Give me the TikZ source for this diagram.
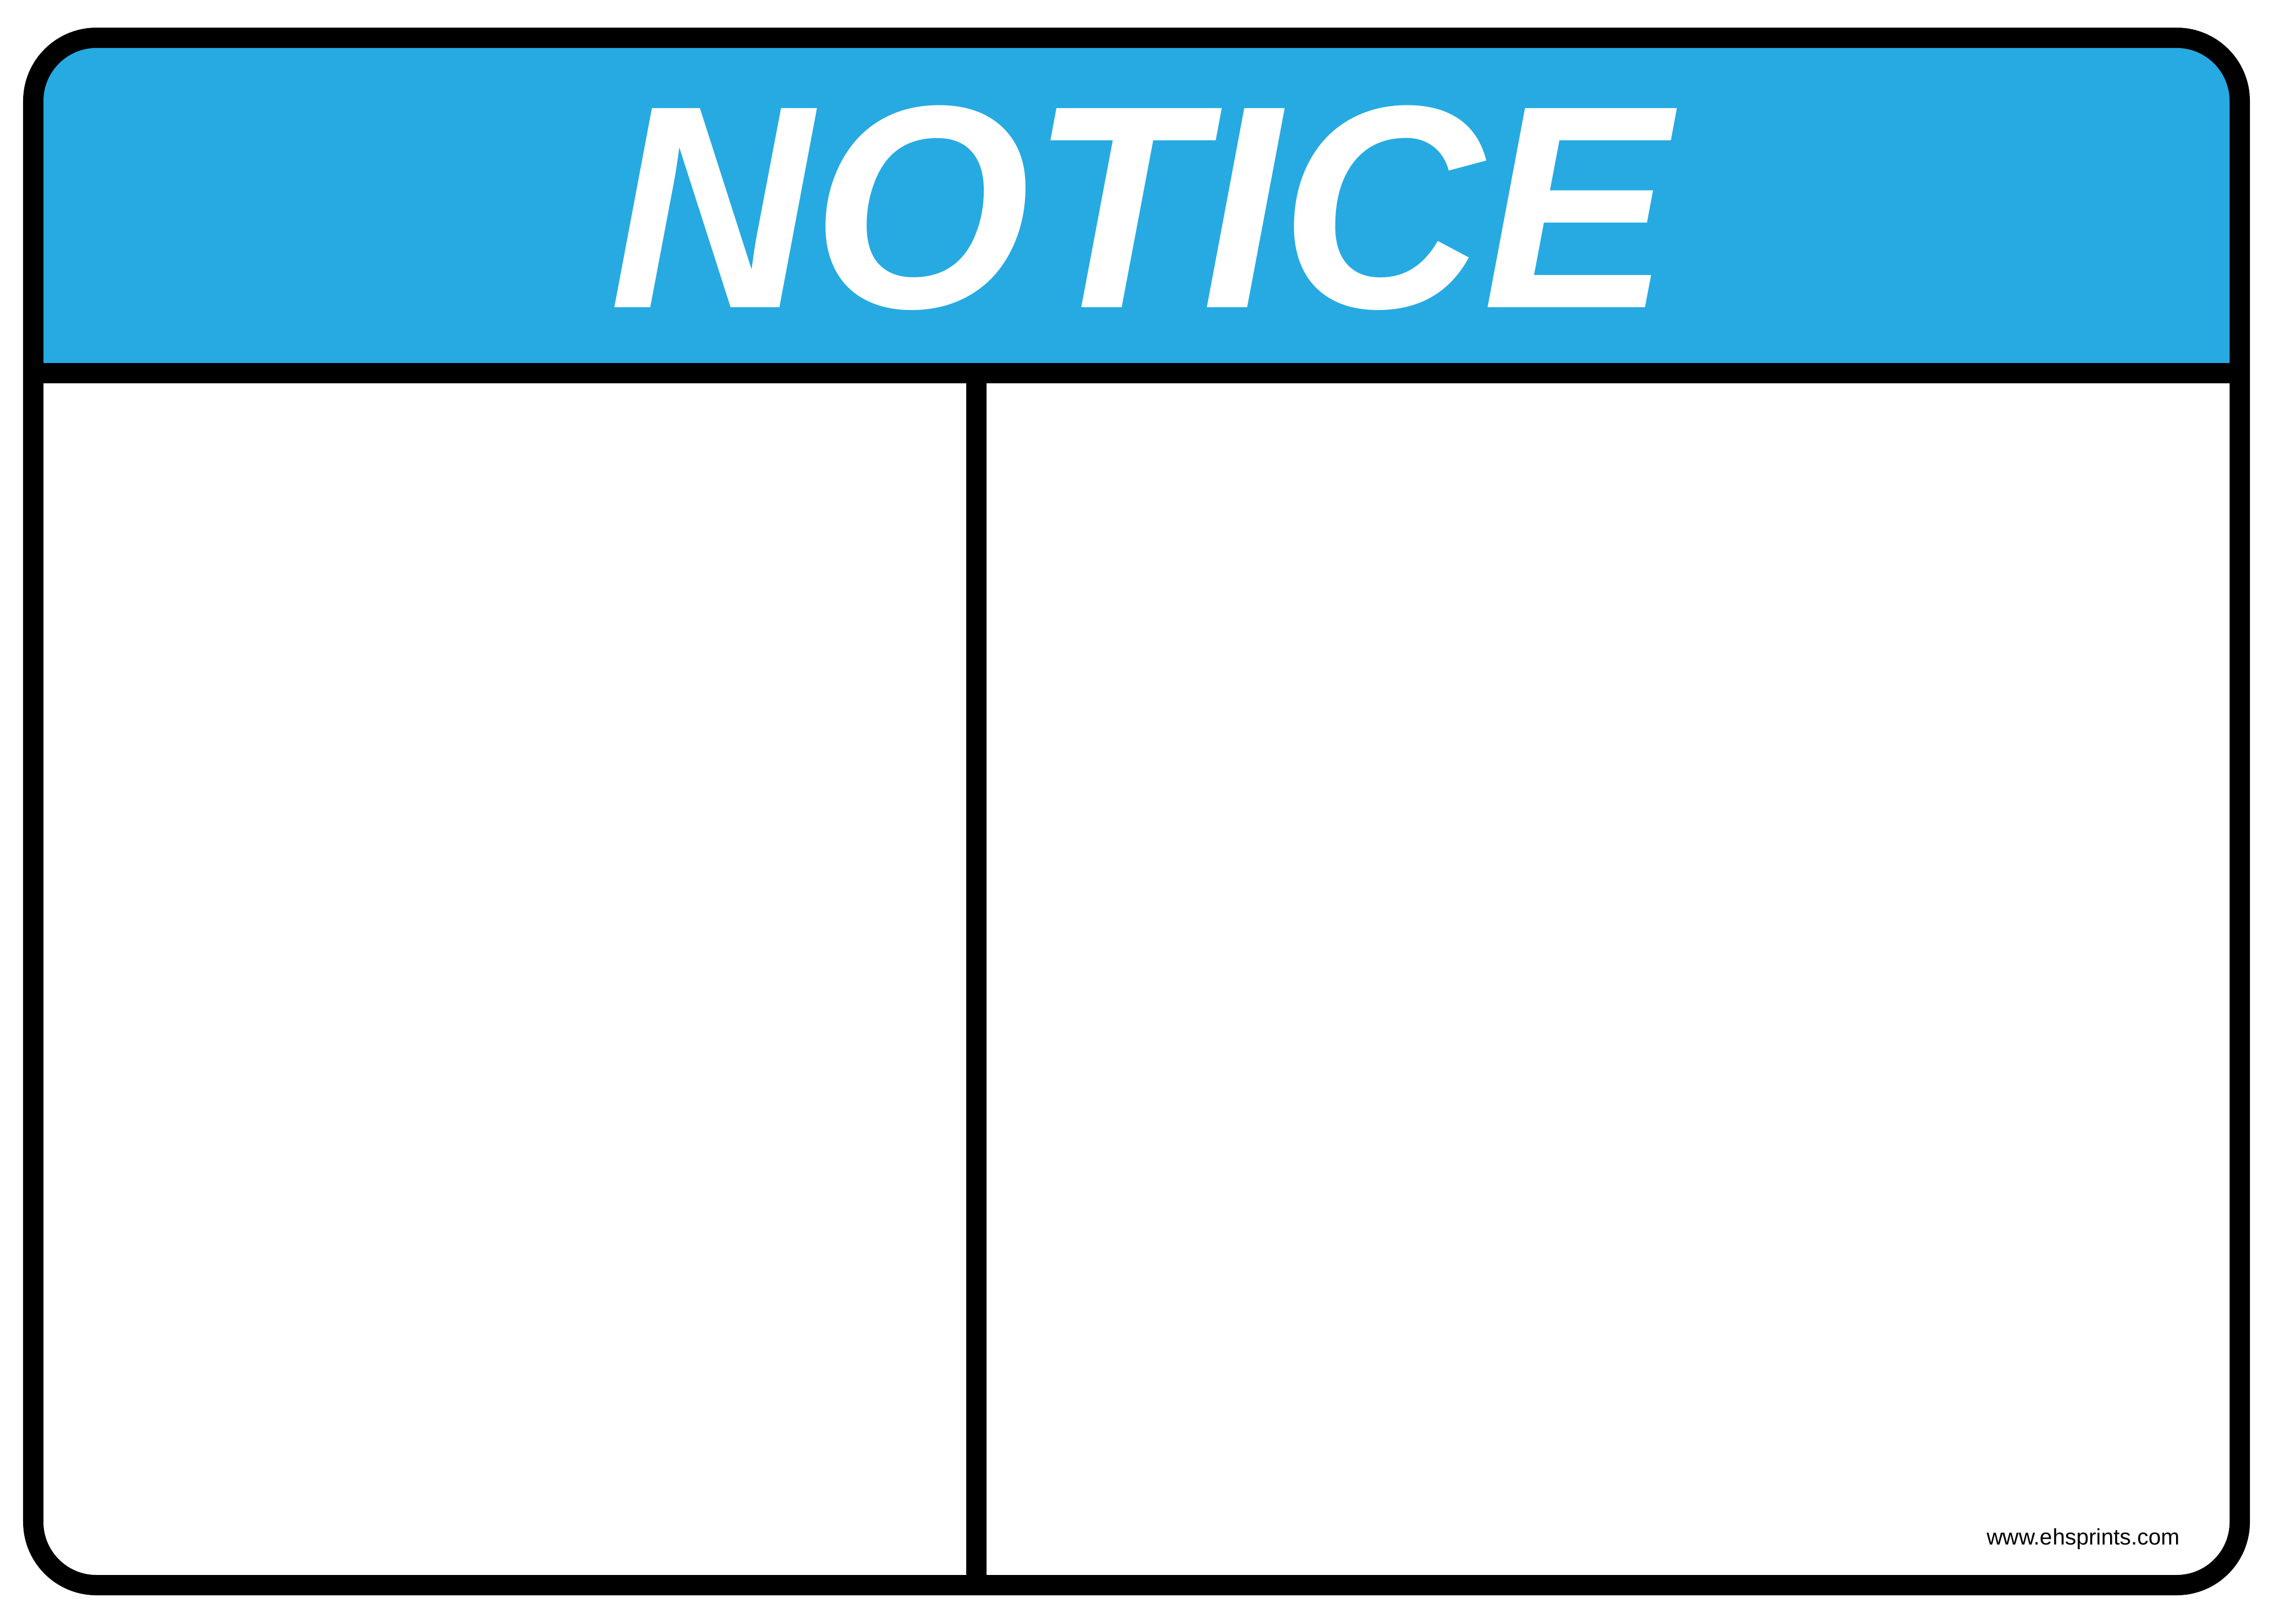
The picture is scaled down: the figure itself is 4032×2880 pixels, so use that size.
\documentclass[tikz,border=0pt]{standalone}
\usepackage{fontspec}
\setmainfont{Liberation Sans}
\newfontfamily\titlefont[FakeStretch=0.97]{Liberation Sans}
\definecolor{noticeblue}{RGB}{38,170,225}
\begin{document}
\begin{tikzpicture}[x=0.01cm,y=-0.01cm]
\tikzstyle{every node}+=[inner sep=0pt]
\tikzset{frame/.style={black,line width=0.36cm}}
\useasboundingbox (0,0) rectangle (4032,2880);
% header band
\fill [noticeblue] (59,662) [rounded corners=1.12cm] -- (59,67) -- (3973,67) [sharp corners] -- (3973,662) -- cycle;
% frame
\draw [frame,rounded corners=1.12cm] (59,67) rectangle (3973,2812);
\draw [frame] (59,662) -- (3973,662);
\draw [frame] (1732,662) -- (1732,2812);
\node (title) [anchor=base,white,font=\titlefont\fontsize{146}{150}\selectfont\bfseries\itshape] at (2022,545) {NOTICE};
\node (web) [anchor=base east,font=\fontsize{11.3}{13}\selectfont] at (3867,2740) {www.ehsprints.com};
\end{tikzpicture}
\end{document}
